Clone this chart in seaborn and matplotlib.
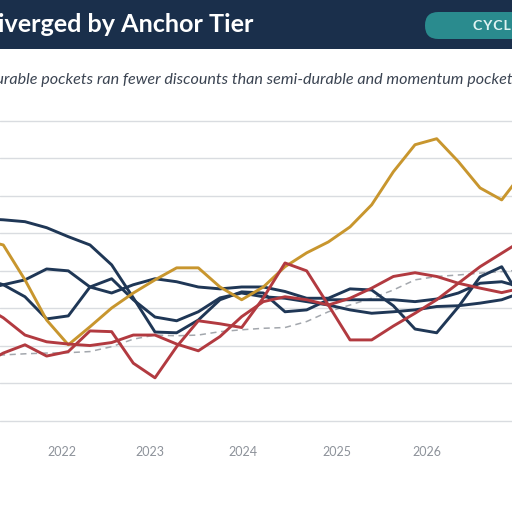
import matplotlib
matplotlib.use('Agg')
import matplotlib.pyplot as plt
from matplotlib.patches import Rectangle, FancyBboxPatch
import pandas as pd
import seaborn as sns

# Données (une valeur par période, k = -1 .. 24)
periods = list(range(-1, 25))

durable_a = [5.39, 5.36, 5.31, 5.15, 4.91, 4.69, 4.16, 3.28, 2.37, 2.35, 2.69, 3.23, 3.44,
             3.41, 2.91, 2.96, 3.23, 3.23, 3.23, 3.23, 3.18, 3.25, 3.41, 3.67, 3.71, 3.55]
durable_b = [3.49, 3.63, 3.76, 4.05, 4.00, 3.57, 3.41, 3.63, 3.79, 3.71, 3.57, 3.52, 3.57,
             3.57, 3.45, 3.27, 3.27, 3.52, 3.49, 3.07, 2.45, 2.35, 3.04, 3.84, 4.11, 3.15]
durable_c = [3.81, 3.63, 3.31, 2.72, 2.80, 3.57, 3.79, 3.23, 2.77, 2.67, 2.91, 3.28, 3.41,
             3.31, 3.27, 3.18, 3.09, 2.96, 2.87, 2.91, 2.96, 3.05, 3.07, 3.14, 3.23, 3.44]
semi_durable = [4.83, 4.69, 3.76, 2.69, 2.03, 2.51, 3.01, 3.41, 3.76, 4.08, 4.08, 3.57, 3.23,
                3.57, 4.11, 4.48, 4.77, 5.17, 5.76, 6.64, 7.36, 7.52, 6.91, 6.21, 5.89, 6.64]
momentum_a = [3.09, 2.75, 2.29, 2.11, 2.05, 2.01, 2.09, 2.29, 2.29, 2.05, 1.87, 2.25, 2.78,
              3.18, 3.31, 3.23, 3.09, 3.27, 3.54, 3.85, 3.95, 3.85, 3.67, 3.54, 3.42, 3.55]
momentum_b = [1.49, 1.81, 2.03, 1.73, 1.85, 2.40, 2.38, 1.54, 1.15, 1.98, 2.67, 2.59, 2.49,
              3.28, 4.21, 4.00, 3.09, 2.16, 2.16, 2.53, 2.87, 3.23, 3.67, 4.11, 4.47, 4.83]
benchmark = [1.71, 1.76, 1.79, 1.81, 1.82, 1.85, 1.98, 2.18, 2.29, 2.27, 2.29, 2.38, 2.43,
             2.47, 2.49, 2.65, 2.91, 3.09, 3.27, 3.49, 3.76, 3.85, 3.89, 3.94, 3.98, 4.03]

tick_pos = [2.71, 6.77, 11.08, 15.4, 19.55]
tick_labels = ['2022', '2023', '2024', '2025', '2026']

navy = '#1f3756'
gold = '#c8962e'
red = '#b23a40'
grey = '#a3a7ad'

series = [
    ('Benchmark', benchmark, grey, 1.1, (4, 3)),
    ('Durable A', durable_a, navy, 2.1, None),
    ('Durable B', durable_b, navy, 2.1, None),
    ('Durable C', durable_c, navy, 2.1, None),
    ('Semi-durable', semi_durable, gold, 2.1, None),
    ('Momentum A', momentum_a, red, 2.1, None),
    ('Momentum B', momentum_b, red, 2.1, None),
]

sns.set_theme(style='white')
plt.rcParams['font.family'] = ['Lato', 'DejaVu Sans']

fig = plt.figure(figsize=(5.12, 5.12), dpi=100)
fig.patch.set_facecolor('white')

# bandeau du titre
fig.patches.append(Rectangle((0, 1 - 49 / 512), 1, 49 / 512, transform=fig.transFigure,
                             facecolor='#1a2f4b', edgecolor='none', zorder=0))
fig.patches.append(FancyBboxPatch((425 / 512, 1 - 39 / 512), 140 / 512, 27 / 512,
                                  boxstyle='round,pad=0,rounding_size=0.026',
                                  transform=fig.transFigure, facecolor='#2a8b8e',
                                  edgecolor='none', zorder=1))
fig.text(253 / 512, 1 - 25 / 512, 'Discount Cadence Diverged by Anchor Tier', ha='right',
         va='center', color='white', fontsize=18.1, fontweight='bold')
fig.text(473 / 512, 1 - 25.5 / 512, '\u200a'.join('CYCLES'), ha='left', va='center',
         color='#dff3f2', fontsize=10.2, fontweight='bold')
fig.text(-0.032, 1 - 80 / 512,
         'Durable pockets ran fewer discounts than semi-durable and momentum pockets',
         ha='left', va='center', color='#3b4452', fontsize=11.6, style='italic')

ax = fig.add_axes([0, (512 - 421) / 512, 1, 300.3 / 512])
for name, vals, col, lw, dash in series:
    df = pd.DataFrame({'period': periods, 'value': vals})
    sns.lineplot(data=df, x='period', y='value', ax=ax, color=col, linewidth=lw,
                 linestyle='--' if dash else '-', label=name, legend=False)
    if dash:
        ax.lines[-1].set_dashes(dash)

ax.set_xlim(-0.152, 23.475)
ax.set_ylim(0, 8)
ax.set_yticks(range(0, 9))
ax.set_yticklabels([])
ax.grid(axis='y', color='#d9dce0', linewidth=1.0)
ax.grid(axis='x', visible=False)
ax.set_xticks(tick_pos)
ax.set_xticklabels(tick_labels, color='#8d929a', fontsize=9)
ax.tick_params(axis='x', length=0, pad=18)
ax.tick_params(axis='y', length=0)
ax.set_xlabel('')
ax.set_ylabel('')
for s in ax.spines.values():
    s.set_visible(False)
for ln in ax.get_ygridlines():
    ln.set_clip_on(False)

fig.savefig('out.png', dpi=100)
